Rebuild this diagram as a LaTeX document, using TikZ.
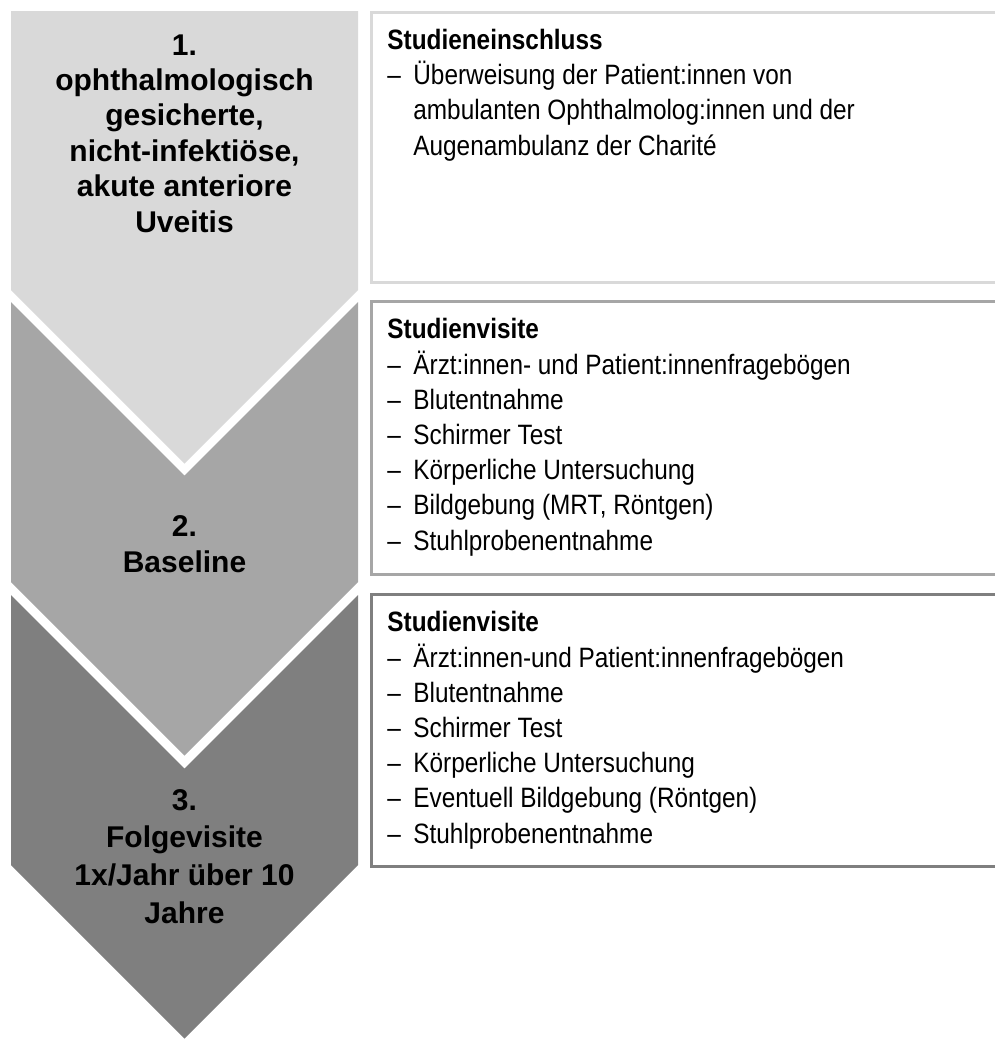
\documentclass[tikz,border=0pt]{standalone}
\usepackage{fontspec}
\setmainfont{Liberation Sans}
\newfontfamily\listfont[FakeStretch=0.87]{Liberation Sans}
\usepackage{xcolor}
\usetikzlibrary{positioning}
\definecolor{chevLight}{HTML}{D9D9D9}
\definecolor{chevMid}{HTML}{A6A6A6}
\definecolor{chevDark}{HTML}{7F7F7F}
\newcommand{\dashitem}{\makebox[13pt][l]{–}}
\newcommand{\itemgap}{\hspace*{13pt}}

\begin{document}
\begin{tikzpicture}[x=0.5pt,y=-0.5pt,
  chevtext/.style={font=\bfseries\fontsize{15}{17.7}\selectfont,align=center,inner sep=0pt,anchor=base},
  listtext/.style={font=\listfont\fontsize{14}{17.6}\selectfont,align=left,inner sep=0pt,anchor=base west},
  listbox/.style={line width=1.5pt,fill=white}]
\useasboundingbox (0,0) rectangle (995,1039);
\clip (0,0) rectangle (995,1039);
% the three chevrons on the left
\fill[chevLight] (11,11) -- (358,11) -- (358,290) -- (184.5,463.5) -- (11,290) -- cycle;
\fill[chevMid] (11,302) -- (184.5,475.5) -- (358,302) -- (358,582) -- (184.5,755.5) -- (11,582) -- cycle;
\fill[chevDark] (11,595) -- (184.5,768.5) -- (358,595) -- (358,865) -- (184.5,1038.5) -- (11,865) -- cycle;
% labels sit on the baseline of their last line
\node[chevtext] (step1) at (184.5,232) {1.\\ophthalmologisch\\gesicherte,\\nicht-infektiöse,\\akute anteriore\\Uveitis};
\node[chevtext] (step2) at (184.5,572) {2.\\Baseline};
\node[chevtext,font=\bfseries\fontsize{15}{18.8}\selectfont] (step3) at (184.5,923) {3.\\Folgevisite\\1x/Jahr über 10\\Jahre};
% boxes on the right, cut by the page edge
\draw[listbox,draw=chevLight] (371,12) rectangle (1005,282);
\draw[listbox,draw=chevMid] (371,301) rectangle (1005,574);
\draw[listbox,draw=chevDark] (371,594) rectangle (1005,866);
\node[listtext] (list1) at (387,155) {\textbf{Studieneinschluss}\\
  \dashitem Überweisung der Patient:innen von\\
  \itemgap ambulanten Ophthalmolog:innen und der\\
  \itemgap Augenambulanz der Charité};
\node[listtext] (list2) at (387,550) {\textbf{Studienvisite}\\
  \dashitem Ärzt:innen- und Patient:innenfragebögen\\
  \dashitem Blutentnahme\\
  \dashitem Schirmer Test\\
  \dashitem Körperliche Untersuchung\\
  \dashitem Bildgebung (MRT, Röntgen)\\
  \dashitem Stuhlprobenentnahme};
\node[listtext] (list3) at (387,843) {\textbf{Studienvisite}\\
  \dashitem Ärzt:innen-und Patient:innenfragebögen\\
  \dashitem Blutentnahme\\
  \dashitem Schirmer Test\\
  \dashitem Körperliche Untersuchung\\
  \dashitem Eventuell Bildgebung (Röntgen)\\
  \dashitem Stuhlprobenentnahme};
\end{tikzpicture}
\end{document}
